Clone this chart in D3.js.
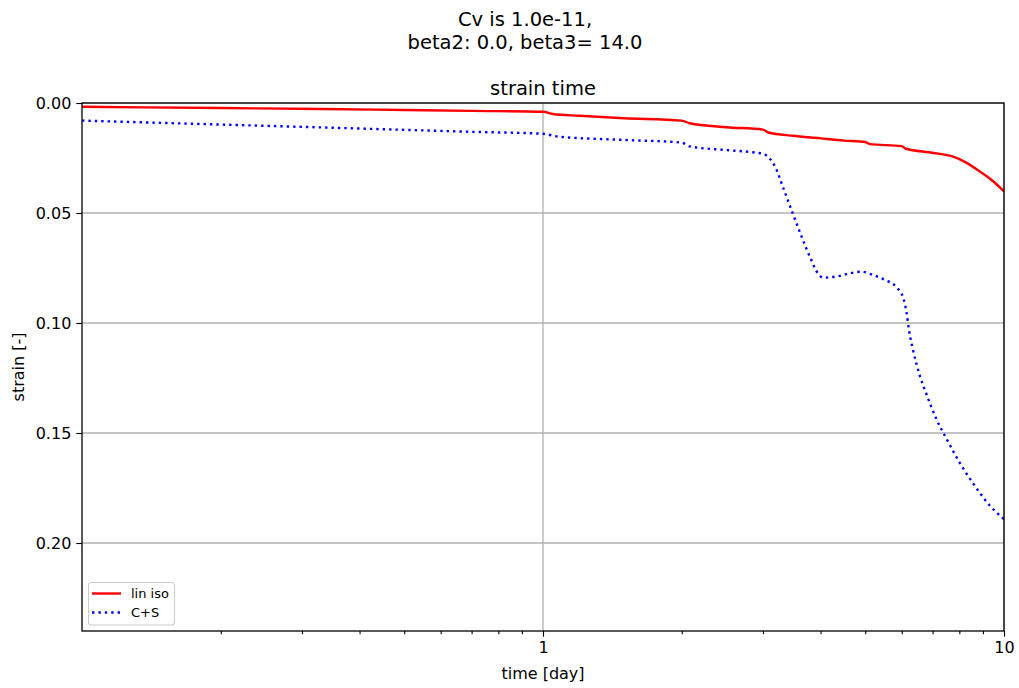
<!DOCTYPE html>
<html>
<head>
<meta charset="utf-8">
<script src="https://cdn.jsdelivr.net/npm/d3@7"></script>
<style>
  body { margin: 0; background: #fff; }
  text { font-family: "DejaVu Sans", sans-serif; fill: #000; }
</style>
</head>
<body>
<div id="chart"></div>
<script>

// data: [time in days, strain]
const linIso = [
    [0.1, 0.0017], [0.2, 0.0023], [0.33, 0.0027], [0.5, 0.0032], [0.7, 0.0036],
    [1.0, 0.0040], [1.05, 0.0050], [1.2, 0.0058], [1.5, 0.0069], [2.0, 0.0080],
    [2.08, 0.0092], [2.5, 0.0110], [3.0, 0.0121], [3.08, 0.0134], [3.5, 0.0149],
    [4.0, 0.0161], [4.5, 0.0171], [5.0, 0.0177], [5.12, 0.0187], [6.0, 0.0196],
    [6.12, 0.0208], [7.0, 0.0226], [7.76, 0.0244], [8.3, 0.0272], [8.87, 0.0312],
    [9.5, 0.0358], [10, 0.0402]
];

const cPlusS = [
    [0.1, 0.0080], [0.2, 0.0098], [0.33, 0.0111], [0.5, 0.0122], [0.7, 0.0131],
    [1.0, 0.0140], [1.08, 0.0153], [1.5, 0.0168], [2.0, 0.0180], [2.08, 0.0197],
    [2.5, 0.0214], [2.9, 0.0226], [3.0, 0.0231], [3.1, 0.0251], [3.2, 0.0297],
    [3.32, 0.0386], [3.48, 0.0501], [3.64, 0.0608], [3.79, 0.0698], [3.95, 0.0775],
    [4.05, 0.0794], [4.4, 0.0786], [4.63, 0.0774], [4.91, 0.0767], [5.2, 0.0782],
    [5.53, 0.0805], [5.85, 0.0838], [6.05, 0.0888], [6.15, 0.0956], [6.22, 0.1032],
    [6.35, 0.1123], [6.56, 0.1236], [6.78, 0.1320], [7.12, 0.1433], [7.53, 0.1532],
    [8.03, 0.1638], [8.57, 0.1729], [9.23, 0.1820], [10, 0.1892]
];

const seriesNames = ['lin iso', 'C+S'];
const xMajorTicks = [1, 10];
const yTicks = [0.00, 0.05, 0.10, 0.15, 0.20];
const titleLines = ['Cv is 1.0e-11,', 'beta2: 0.0, beta3= 14.0'];

//1 - dimensions
let dimensions = {
    width: 1019,
    height: 688,
    left: 82,
    right: 1004,
    top: 103,
    bottom: 631,
};

//2 - canvas
const svg = d3.select('#chart').append('svg')
    .attr('width', dimensions.width)
    .attr('height', dimensions.height);

//3 - scales
let xScale = d3.scaleLog()
    .domain([0.1, 10])
    .range([dimensions.left, dimensions.right]);

let yScale = d3.scaleLinear()
    .domain([0, 0.24])
    .range([dimensions.top, dimensions.bottom]);

//4 - grid
const grid = svg.append('g');

grid.selectAll('.gy')
    .data(yTicks)
    .join('line')
    .attr('x1', dimensions.left)
    .attr('x2', dimensions.right)
    .attr('y1', d => yScale(d))
    .attr('y2', d => yScale(d))
    .style('stroke', '#b0b0b0')
    .style('stroke-width', 1.3);

grid.selectAll('.gx')
    .data(xMajorTicks)
    .join('line')
    .attr('x1', d => xScale(d))
    .attr('x2', d => xScale(d))
    .attr('y1', dimensions.top)
    .attr('y2', dimensions.bottom)
    .style('stroke', '#b0b0b0')
    .style('stroke-width', 1.3);

//5 - lines
let lineGenerator = d3.line()
    .curve(d3.curveMonotoneX)
    .x(d => xScale(d[0]))
    .y(d => yScale(d[1]));

svg.append('defs').append('clipPath')
    .attr('id', 'plot-clip')
    .append('rect')
    .attr('x', dimensions.left)
    .attr('y', dimensions.top)
    .attr('width', dimensions.right - dimensions.left)
    .attr('height', dimensions.bottom - dimensions.top);

svg.append('path')
    .attr('d', lineGenerator(linIso))
    .attr('clip-path', 'url(#plot-clip)')
    .style('fill', 'none')
    .style('stroke', 'red')
    .style('stroke-width', 2.4);

svg.append('path')
    .attr('d', lineGenerator(cPlusS))
    .attr('clip-path', 'url(#plot-clip)')
    .style('fill', 'none')
    .style('stroke', 'blue')
    .style('stroke-width', 2.4)
    .style('stroke-dasharray', '2.4,4');

//6 - axes
let xAxis = d3.axisBottom(xScale)
    .tickValues(xMajorTicks)
    .tickFormat(d3.format('d'))
    .tickSize(5.7)
    .tickPadding(5);

let xMinor = d3.axisBottom(xScale)
    .tickValues(xScale.ticks().filter(t => xMajorTicks.indexOf(t) < 0 && t > 0.1))
    .tickFormat('')
    .tickSize(3.2);

let yAxis = d3.axisLeft(yScale)
    .tickValues(yTicks)
    .tickFormat(d3.format('.2f'))
    .tickSize(5.7)
    .tickPadding(5);

const gx = svg.append('g')
    .attr('transform', `translate(0,${dimensions.bottom})`)
    .call(xAxis);

const gxm = svg.append('g')
    .attr('transform', `translate(0,${dimensions.bottom})`)
    .call(xMinor);

const gy = svg.append('g')
    .attr('transform', `translate(${dimensions.left},0)`)
    .call(yAxis);

[gx, gxm, gy].forEach(g => {
    g.select('.domain').remove();
    g.selectAll('line').style('stroke', '#000').style('stroke-width', 1.1);
    g.selectAll('text')
        .style('font-family', '"DejaVu Sans", sans-serif')
        .style('font-size', '16px')
        .style('fill', '#000');
});

// frame
svg.append('rect')
    .attr('x', dimensions.left)
    .attr('y', dimensions.top)
    .attr('width', dimensions.right - dimensions.left)
    .attr('height', dimensions.bottom - dimensions.top)
    .style('fill', 'none')
    .style('stroke', '#000')
    .style('stroke-width', 1.3);

//7 - labels and titles
svg.append('text')
    .attr('x', (dimensions.left + dimensions.right) / 2)
    .attr('y', 679)
    .attr('text-anchor', 'middle')
    .style('font-size', '16px')
    .text('time [day]');

svg.append('text')
    .attr('transform', `translate(24,${(dimensions.top + dimensions.bottom) / 2}) rotate(-90)`)
    .attr('text-anchor', 'middle')
    .style('font-size', '16px')
    .text('strain [-]');

svg.append('text')
    .attr('x', (dimensions.left + dimensions.right) / 2)
    .attr('y', 95)
    .attr('text-anchor', 'middle')
    .style('font-size', '19.5px')
    .text('strain time');

svg.selectAll('.suptitle')
    .data(titleLines)
    .join('text')
    .attr('x', 525)
    .attr('y', (d, i) => 26 + i * 23)
    .attr('text-anchor', 'middle')
    .style('font-size', '19.5px')
    .text(d => d);

//8 - legend
const legend = svg.append('g');

legend.append('rect')
    .attr('x', 88.5)
    .attr('y', 582.5)
    .attr('width', 86)
    .attr('height', 42.5)
    .attr('rx', 3)
    .style('fill', '#fff')
    .style('fill-opacity', 0.8)
    .style('stroke', '#cccccc')
    .style('stroke-width', 1.1);

const legendStyles = [
    { color: 'red', dash: null },
    { color: 'blue', dash: '2.4,4' },
];

seriesNames.forEach((name, i) => {
    let ly = 593.5 + i * 19;
    legend.append('line')
        .attr('x1', 92)
        .attr('x2', 121)
        .attr('y1', ly)
        .attr('y2', ly)
        .style('stroke', legendStyles[i].color)
        .style('stroke-width', 2.4)
        .style('stroke-dasharray', legendStyles[i].dash);
    legend.append('text')
        .attr('x', 131)
        .attr('y', ly + 4.6)
        .style('font-size', '13px')
        .text(name);
});

</script>
</body>
</html>
